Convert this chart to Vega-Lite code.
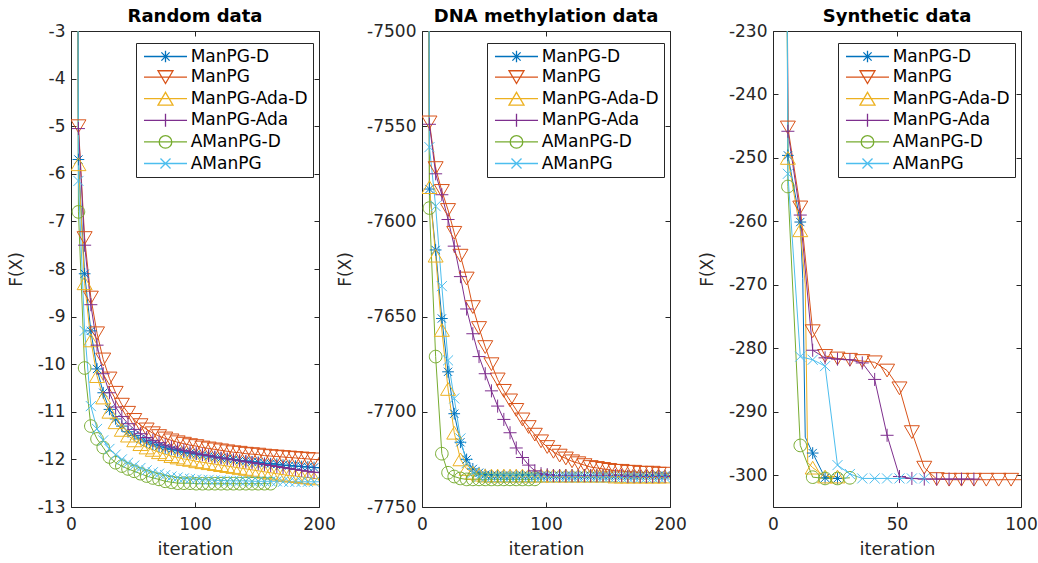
{
  "$schema": "https://vega.github.io/schema/vega-lite/v6.json",
  "padding": {"left": 7, "top": 8, "right": 0, "bottom": 0},
  "datasets": {
    "random": [
      {"m":"ManPG-D","i":5,"F":5},{"m":"ManPG-D","i":6,"F":-5.7},{"m":"ManPG-D","i":11,"F":-8.1},{"m":"ManPG-D","i":16,"F":-9.3},{"m":"ManPG-D","i":21,"F":-10.1},{"m":"ManPG-D","i":26,"F":-10.6},{"m":"ManPG-D","i":31,"F":-10.95},{"m":"ManPG-D","i":36,"F":-11.15},{"m":"ManPG-D","i":41,"F":-11.3},{"m":"ManPG-D","i":46,"F":-11.42},{"m":"ManPG-D","i":51,"F":-11.5},{"m":"ManPG-D","i":56,"F":-11.57},{"m":"ManPG-D","i":61,"F":-11.63},{"m":"ManPG-D","i":66,"F":-11.68},{"m":"ManPG-D","i":71,"F":-11.72},{"m":"ManPG-D","i":76,"F":-11.76},{"m":"ManPG-D","i":81,"F":-11.79},{"m":"ManPG-D","i":86,"F":-11.82},{"m":"ManPG-D","i":91,"F":-11.85},{"m":"ManPG-D","i":96,"F":-11.87},{"m":"ManPG-D","i":101,"F":-11.89},{"m":"ManPG-D","i":106,"F":-11.91},{"m":"ManPG-D","i":111,"F":-11.93},{"m":"ManPG-D","i":116,"F":-11.95},{"m":"ManPG-D","i":121,"F":-11.97},{"m":"ManPG-D","i":126,"F":-11.99},{"m":"ManPG-D","i":131,"F":-12.0},{"m":"ManPG-D","i":136,"F":-12.02},{"m":"ManPG-D","i":141,"F":-12.03},{"m":"ManPG-D","i":146,"F":-12.05},{"m":"ManPG-D","i":151,"F":-12.06},{"m":"ManPG-D","i":156,"F":-12.08},{"m":"ManPG-D","i":161,"F":-12.09},{"m":"ManPG-D","i":166,"F":-12.1},{"m":"ManPG-D","i":171,"F":-12.12},{"m":"ManPG-D","i":176,"F":-12.13},{"m":"ManPG-D","i":181,"F":-12.14},{"m":"ManPG-D","i":186,"F":-12.15},{"m":"ManPG-D","i":191,"F":-12.16},{"m":"ManPG-D","i":196,"F":-12.17},{"m":"ManPG-D","i":200,"F":-12.18},
      {"m":"ManPG","i":5,"F":5},{"m":"ManPG","i":6,"F":-5.0},{"m":"ManPG","i":11,"F":-7.35},{"m":"ManPG","i":16,"F":-8.6},{"m":"ManPG","i":21,"F":-9.35},{"m":"ManPG","i":26,"F":-9.9},{"m":"ManPG","i":31,"F":-10.3},{"m":"ManPG","i":36,"F":-10.6},{"m":"ManPG","i":41,"F":-10.85},{"m":"ManPG","i":46,"F":-11.02},{"m":"ManPG","i":51,"F":-11.17},{"m":"ManPG","i":56,"F":-11.28},{"m":"ManPG","i":61,"F":-11.37},{"m":"ManPG","i":66,"F":-11.45},{"m":"ManPG","i":71,"F":-11.51},{"m":"ManPG","i":76,"F":-11.56},{"m":"ManPG","i":81,"F":-11.6},{"m":"ManPG","i":86,"F":-11.64},{"m":"ManPG","i":91,"F":-11.67},{"m":"ManPG","i":96,"F":-11.7},{"m":"ManPG","i":101,"F":-11.72},{"m":"ManPG","i":106,"F":-11.75},{"m":"ManPG","i":111,"F":-11.77},{"m":"ManPG","i":116,"F":-11.79},{"m":"ManPG","i":121,"F":-11.81},{"m":"ManPG","i":126,"F":-11.83},{"m":"ManPG","i":131,"F":-11.85},{"m":"ManPG","i":136,"F":-11.86},{"m":"ManPG","i":141,"F":-11.88},{"m":"ManPG","i":146,"F":-11.89},{"m":"ManPG","i":151,"F":-11.9},{"m":"ManPG","i":156,"F":-11.92},{"m":"ManPG","i":161,"F":-11.93},{"m":"ManPG","i":166,"F":-11.94},{"m":"ManPG","i":171,"F":-11.95},{"m":"ManPG","i":176,"F":-11.96},{"m":"ManPG","i":181,"F":-11.97},{"m":"ManPG","i":186,"F":-11.98},{"m":"ManPG","i":191,"F":-11.99},{"m":"ManPG","i":196,"F":-12.0},{"m":"ManPG","i":200,"F":-12.01},
      {"m":"ManPG-Ada-D","i":5,"F":5},{"m":"ManPG-Ada-D","i":6,"F":-5.8},{"m":"ManPG-Ada-D","i":11,"F":-8.3},{"m":"ManPG-Ada-D","i":16,"F":-9.5},{"m":"ManPG-Ada-D","i":21,"F":-10.25},{"m":"ManPG-Ada-D","i":26,"F":-10.7},{"m":"ManPG-Ada-D","i":31,"F":-11.0},{"m":"ManPG-Ada-D","i":36,"F":-11.22},{"m":"ManPG-Ada-D","i":41,"F":-11.38},{"m":"ManPG-Ada-D","i":46,"F":-11.5},{"m":"ManPG-Ada-D","i":51,"F":-11.6},{"m":"ManPG-Ada-D","i":56,"F":-11.68},{"m":"ManPG-Ada-D","i":61,"F":-11.75},{"m":"ManPG-Ada-D","i":66,"F":-11.8},{"m":"ManPG-Ada-D","i":71,"F":-11.85},{"m":"ManPG-Ada-D","i":76,"F":-11.89},{"m":"ManPG-Ada-D","i":81,"F":-11.93},{"m":"ManPG-Ada-D","i":86,"F":-11.96},{"m":"ManPG-Ada-D","i":91,"F":-11.99},{"m":"ManPG-Ada-D","i":96,"F":-12.01},{"m":"ManPG-Ada-D","i":101,"F":-12.04},{"m":"ManPG-Ada-D","i":106,"F":-12.06},{"m":"ManPG-Ada-D","i":111,"F":-12.08},{"m":"ManPG-Ada-D","i":116,"F":-12.1},{"m":"ManPG-Ada-D","i":121,"F":-12.12},{"m":"ManPG-Ada-D","i":126,"F":-12.14},{"m":"ManPG-Ada-D","i":131,"F":-12.16},{"m":"ManPG-Ada-D","i":136,"F":-12.18},{"m":"ManPG-Ada-D","i":141,"F":-12.2},{"m":"ManPG-Ada-D","i":146,"F":-12.22},{"m":"ManPG-Ada-D","i":151,"F":-12.24},{"m":"ManPG-Ada-D","i":156,"F":-12.26},{"m":"ManPG-Ada-D","i":161,"F":-12.28},{"m":"ManPG-Ada-D","i":166,"F":-12.3},{"m":"ManPG-Ada-D","i":171,"F":-12.32},{"m":"ManPG-Ada-D","i":176,"F":-12.34},{"m":"ManPG-Ada-D","i":181,"F":-12.35},{"m":"ManPG-Ada-D","i":186,"F":-12.37},{"m":"ManPG-Ada-D","i":191,"F":-12.38},{"m":"ManPG-Ada-D","i":196,"F":-12.4},{"m":"ManPG-Ada-D","i":200,"F":-12.41},
      {"m":"ManPG-Ada","i":5,"F":5},{"m":"ManPG-Ada","i":6,"F":-5.05},{"m":"ManPG-Ada","i":11,"F":-7.5},{"m":"ManPG-Ada","i":16,"F":-8.75},{"m":"ManPG-Ada","i":21,"F":-9.6},{"m":"ManPG-Ada","i":26,"F":-10.2},{"m":"ManPG-Ada","i":31,"F":-10.6},{"m":"ManPG-Ada","i":36,"F":-10.9},{"m":"ManPG-Ada","i":41,"F":-11.1},{"m":"ManPG-Ada","i":46,"F":-11.25},{"m":"ManPG-Ada","i":51,"F":-11.37},{"m":"ManPG-Ada","i":56,"F":-11.46},{"m":"ManPG-Ada","i":61,"F":-11.54},{"m":"ManPG-Ada","i":66,"F":-11.6},{"m":"ManPG-Ada","i":71,"F":-11.65},{"m":"ManPG-Ada","i":76,"F":-11.7},{"m":"ManPG-Ada","i":81,"F":-11.74},{"m":"ManPG-Ada","i":86,"F":-11.78},{"m":"ManPG-Ada","i":91,"F":-11.81},{"m":"ManPG-Ada","i":96,"F":-11.84},{"m":"ManPG-Ada","i":101,"F":-11.87},{"m":"ManPG-Ada","i":106,"F":-11.9},{"m":"ManPG-Ada","i":111,"F":-11.92},{"m":"ManPG-Ada","i":116,"F":-11.95},{"m":"ManPG-Ada","i":121,"F":-11.97},{"m":"ManPG-Ada","i":126,"F":-11.99},{"m":"ManPG-Ada","i":131,"F":-12.01},{"m":"ManPG-Ada","i":136,"F":-12.03},{"m":"ManPG-Ada","i":141,"F":-12.05},{"m":"ManPG-Ada","i":146,"F":-12.07},{"m":"ManPG-Ada","i":151,"F":-12.09},{"m":"ManPG-Ada","i":156,"F":-12.11},{"m":"ManPG-Ada","i":161,"F":-12.13},{"m":"ManPG-Ada","i":166,"F":-12.15},{"m":"ManPG-Ada","i":171,"F":-12.17},{"m":"ManPG-Ada","i":176,"F":-12.19},{"m":"ManPG-Ada","i":181,"F":-12.21},{"m":"ManPG-Ada","i":186,"F":-12.23},{"m":"ManPG-Ada","i":191,"F":-12.25},{"m":"ManPG-Ada","i":196,"F":-12.27},{"m":"ManPG-Ada","i":200,"F":-12.28},
      {"m":"AManPG-D","i":5,"F":5},{"m":"AManPG-D","i":6,"F":-6.8},{"m":"AManPG-D","i":11,"F":-10.08},{"m":"AManPG-D","i":16,"F":-11.3},{"m":"AManPG-D","i":21,"F":-11.57},{"m":"AManPG-D","i":26,"F":-11.75},{"m":"AManPG-D","i":31,"F":-11.95},{"m":"AManPG-D","i":36,"F":-12.07},{"m":"AManPG-D","i":41,"F":-12.14},{"m":"AManPG-D","i":46,"F":-12.2},{"m":"AManPG-D","i":51,"F":-12.25},{"m":"AManPG-D","i":56,"F":-12.3},{"m":"AManPG-D","i":61,"F":-12.35},{"m":"AManPG-D","i":66,"F":-12.39},{"m":"AManPG-D","i":71,"F":-12.42},{"m":"AManPG-D","i":76,"F":-12.46},{"m":"AManPG-D","i":81,"F":-12.48},{"m":"AManPG-D","i":86,"F":-12.5},{"m":"AManPG-D","i":91,"F":-12.5},{"m":"AManPG-D","i":96,"F":-12.5},{"m":"AManPG-D","i":101,"F":-12.51},{"m":"AManPG-D","i":106,"F":-12.51},{"m":"AManPG-D","i":111,"F":-12.51},{"m":"AManPG-D","i":116,"F":-12.51},{"m":"AManPG-D","i":121,"F":-12.51},{"m":"AManPG-D","i":126,"F":-12.51},{"m":"AManPG-D","i":131,"F":-12.51},{"m":"AManPG-D","i":136,"F":-12.51},{"m":"AManPG-D","i":141,"F":-12.51},{"m":"AManPG-D","i":146,"F":-12.51},{"m":"AManPG-D","i":151,"F":-12.51},{"m":"AManPG-D","i":156,"F":-12.51},{"m":"AManPG-D","i":161,"F":-12.51},
      {"m":"AManPG","i":5,"F":5},{"m":"AManPG","i":6,"F":-6.15},{"m":"AManPG","i":11,"F":-9.3},{"m":"AManPG","i":16,"F":-10.88},{"m":"AManPG","i":21,"F":-11.36},{"m":"AManPG","i":26,"F":-11.6},{"m":"AManPG","i":31,"F":-11.78},{"m":"AManPG","i":36,"F":-11.9},{"m":"AManPG","i":41,"F":-12.0},{"m":"AManPG","i":46,"F":-12.07},{"m":"AManPG","i":51,"F":-12.13},{"m":"AManPG","i":56,"F":-12.18},{"m":"AManPG","i":61,"F":-12.23},{"m":"AManPG","i":66,"F":-12.27},{"m":"AManPG","i":71,"F":-12.3},{"m":"AManPG","i":76,"F":-12.33},{"m":"AManPG","i":81,"F":-12.36},{"m":"AManPG","i":86,"F":-12.38},{"m":"AManPG","i":91,"F":-12.4},{"m":"AManPG","i":96,"F":-12.41},{"m":"AManPG","i":101,"F":-12.42},{"m":"AManPG","i":106,"F":-12.43},{"m":"AManPG","i":111,"F":-12.43},{"m":"AManPG","i":116,"F":-12.44},{"m":"AManPG","i":121,"F":-12.44},{"m":"AManPG","i":126,"F":-12.45},{"m":"AManPG","i":131,"F":-12.45},{"m":"AManPG","i":136,"F":-12.45},{"m":"AManPG","i":141,"F":-12.45},{"m":"AManPG","i":146,"F":-12.46},{"m":"AManPG","i":151,"F":-12.46},{"m":"AManPG","i":156,"F":-12.46},{"m":"AManPG","i":161,"F":-12.46},{"m":"AManPG","i":166,"F":-12.46},{"m":"AManPG","i":171,"F":-12.47},{"m":"AManPG","i":176,"F":-12.47},{"m":"AManPG","i":181,"F":-12.47},{"m":"AManPG","i":186,"F":-12.47},{"m":"AManPG","i":191,"F":-12.47},{"m":"AManPG","i":196,"F":-12.47},{"m":"AManPG","i":200,"F":-12.47}
    ],
    "dna": [
      {"m":"ManPG-D","i":5,"F":-7300},{"m":"ManPG-D","i":6,"F":-7583},{"m":"ManPG-D","i":11,"F":-7615},{"m":"ManPG-D","i":16,"F":-7651},{"m":"ManPG-D","i":21,"F":-7679},{"m":"ManPG-D","i":26,"F":-7701},{"m":"ManPG-D","i":31,"F":-7716},{"m":"ManPG-D","i":36,"F":-7725},{"m":"ManPG-D","i":41,"F":-7730},{"m":"ManPG-D","i":46,"F":-7732},{"m":"ManPG-D","i":51,"F":-7733},{"m":"ManPG-D","i":56,"F":-7733.5},{"m":"ManPG-D","i":61,"F":-7733.5},{"m":"ManPG-D","i":66,"F":-7733.5},{"m":"ManPG-D","i":71,"F":-7733.5},{"m":"ManPG-D","i":76,"F":-7733.5},{"m":"ManPG-D","i":81,"F":-7733.5},{"m":"ManPG-D","i":86,"F":-7733.5},{"m":"ManPG-D","i":91,"F":-7733.5},{"m":"ManPG-D","i":96,"F":-7733.5},{"m":"ManPG-D","i":101,"F":-7733.5},{"m":"ManPG-D","i":106,"F":-7733.5},{"m":"ManPG-D","i":111,"F":-7733.5},{"m":"ManPG-D","i":116,"F":-7733.5},{"m":"ManPG-D","i":121,"F":-7733.5},{"m":"ManPG-D","i":126,"F":-7733.5},{"m":"ManPG-D","i":131,"F":-7733.5},{"m":"ManPG-D","i":136,"F":-7733.5},{"m":"ManPG-D","i":141,"F":-7733.5},{"m":"ManPG-D","i":146,"F":-7733.5},{"m":"ManPG-D","i":151,"F":-7733.5},{"m":"ManPG-D","i":156,"F":-7733.5},{"m":"ManPG-D","i":161,"F":-7733.5},{"m":"ManPG-D","i":166,"F":-7733.5},{"m":"ManPG-D","i":171,"F":-7733.5},{"m":"ManPG-D","i":176,"F":-7733.5},{"m":"ManPG-D","i":181,"F":-7733.5},{"m":"ManPG-D","i":186,"F":-7733.5},{"m":"ManPG-D","i":191,"F":-7733.5},{"m":"ManPG-D","i":196,"F":-7733.5},{"m":"ManPG-D","i":200,"F":-7733.5},
      {"m":"ManPG","i":5,"F":-7300},{"m":"ManPG","i":6,"F":-7548},{"m":"ManPG","i":11,"F":-7572},{"m":"ManPG","i":16,"F":-7584},{"m":"ManPG","i":21,"F":-7594},{"m":"ManPG","i":26,"F":-7606},{"m":"ManPG","i":31,"F":-7618},{"m":"ManPG","i":36,"F":-7630},{"m":"ManPG","i":41,"F":-7645},{"m":"ManPG","i":46,"F":-7656},{"m":"ManPG","i":51,"F":-7666},{"m":"ManPG","i":56,"F":-7675},{"m":"ManPG","i":61,"F":-7683},{"m":"ManPG","i":66,"F":-7689},{"m":"ManPG","i":71,"F":-7694},{"m":"ManPG","i":76,"F":-7699},{"m":"ManPG","i":81,"F":-7704},{"m":"ManPG","i":86,"F":-7708},{"m":"ManPG","i":91,"F":-7712},{"m":"ManPG","i":96,"F":-7715.5},{"m":"ManPG","i":101,"F":-7718.5},{"m":"ManPG","i":106,"F":-7721},{"m":"ManPG","i":111,"F":-7723},{"m":"ManPG","i":116,"F":-7724.5},{"m":"ManPG","i":121,"F":-7726},{"m":"ManPG","i":126,"F":-7727},{"m":"ManPG","i":131,"F":-7728},{"m":"ManPG","i":136,"F":-7729},{"m":"ManPG","i":141,"F":-7729.5},{"m":"ManPG","i":146,"F":-7730},{"m":"ManPG","i":151,"F":-7730.5},{"m":"ManPG","i":156,"F":-7731},{"m":"ManPG","i":161,"F":-7731},{"m":"ManPG","i":166,"F":-7731.5},{"m":"ManPG","i":171,"F":-7731.5},{"m":"ManPG","i":176,"F":-7732},{"m":"ManPG","i":181,"F":-7732},{"m":"ManPG","i":186,"F":-7732},{"m":"ManPG","i":191,"F":-7732.5},{"m":"ManPG","i":196,"F":-7732.5},{"m":"ManPG","i":200,"F":-7732.5},
      {"m":"ManPG-Ada-D","i":5,"F":-7300},{"m":"ManPG-Ada-D","i":6,"F":-7582},{"m":"ManPG-Ada-D","i":11,"F":-7618},{"m":"ManPG-Ada-D","i":16,"F":-7657},{"m":"ManPG-Ada-D","i":21,"F":-7688},{"m":"ManPG-Ada-D","i":26,"F":-7711},{"m":"ManPG-Ada-D","i":31,"F":-7725},{"m":"ManPG-Ada-D","i":36,"F":-7730},{"m":"ManPG-Ada-D","i":41,"F":-7732},{"m":"ManPG-Ada-D","i":46,"F":-7733},{"m":"ManPG-Ada-D","i":51,"F":-7733.5},{"m":"ManPG-Ada-D","i":56,"F":-7733.5},{"m":"ManPG-Ada-D","i":61,"F":-7733.5},{"m":"ManPG-Ada-D","i":66,"F":-7733.5},{"m":"ManPG-Ada-D","i":71,"F":-7733.5},{"m":"ManPG-Ada-D","i":76,"F":-7733.5},{"m":"ManPG-Ada-D","i":81,"F":-7733.5},{"m":"ManPG-Ada-D","i":86,"F":-7733.5},{"m":"ManPG-Ada-D","i":91,"F":-7733.5},{"m":"ManPG-Ada-D","i":96,"F":-7733.5},{"m":"ManPG-Ada-D","i":101,"F":-7733.5},{"m":"ManPG-Ada-D","i":106,"F":-7733.5},{"m":"ManPG-Ada-D","i":111,"F":-7733.5},{"m":"ManPG-Ada-D","i":116,"F":-7733.5},{"m":"ManPG-Ada-D","i":121,"F":-7733.5},{"m":"ManPG-Ada-D","i":126,"F":-7733.5},{"m":"ManPG-Ada-D","i":131,"F":-7733.5},{"m":"ManPG-Ada-D","i":136,"F":-7733.5},{"m":"ManPG-Ada-D","i":141,"F":-7733.5},{"m":"ManPG-Ada-D","i":146,"F":-7733.5},{"m":"ManPG-Ada-D","i":151,"F":-7733.5},{"m":"ManPG-Ada-D","i":156,"F":-7734},{"m":"ManPG-Ada-D","i":161,"F":-7734},{"m":"ManPG-Ada-D","i":166,"F":-7734},{"m":"ManPG-Ada-D","i":171,"F":-7734},{"m":"ManPG-Ada-D","i":176,"F":-7734},{"m":"ManPG-Ada-D","i":181,"F":-7734},{"m":"ManPG-Ada-D","i":186,"F":-7734},{"m":"ManPG-Ada-D","i":191,"F":-7734},{"m":"ManPG-Ada-D","i":196,"F":-7734},{"m":"ManPG-Ada-D","i":200,"F":-7734},
      {"m":"ManPG-Ada","i":5,"F":-7300},{"m":"ManPG-Ada","i":6,"F":-7549},{"m":"ManPG-Ada","i":11,"F":-7575},{"m":"ManPG-Ada","i":16,"F":-7586},{"m":"ManPG-Ada","i":21,"F":-7599},{"m":"ManPG-Ada","i":26,"F":-7613},{"m":"ManPG-Ada","i":31,"F":-7629},{"m":"ManPG-Ada","i":36,"F":-7646},{"m":"ManPG-Ada","i":41,"F":-7659},{"m":"ManPG-Ada","i":46,"F":-7671},{"m":"ManPG-Ada","i":51,"F":-7680},{"m":"ManPG-Ada","i":56,"F":-7689},{"m":"ManPG-Ada","i":61,"F":-7697},{"m":"ManPG-Ada","i":66,"F":-7704},{"m":"ManPG-Ada","i":71,"F":-7711},{"m":"ManPG-Ada","i":76,"F":-7719},{"m":"ManPG-Ada","i":81,"F":-7724},{"m":"ManPG-Ada","i":86,"F":-7728},{"m":"ManPG-Ada","i":91,"F":-7731},{"m":"ManPG-Ada","i":96,"F":-7732.5},{"m":"ManPG-Ada","i":101,"F":-7733},{"m":"ManPG-Ada","i":106,"F":-7733.5},{"m":"ManPG-Ada","i":111,"F":-7733.5},{"m":"ManPG-Ada","i":116,"F":-7733.5},{"m":"ManPG-Ada","i":121,"F":-7733.5},{"m":"ManPG-Ada","i":126,"F":-7733.5},{"m":"ManPG-Ada","i":131,"F":-7733.5},{"m":"ManPG-Ada","i":136,"F":-7733.5},{"m":"ManPG-Ada","i":141,"F":-7733.5},{"m":"ManPG-Ada","i":146,"F":-7733.5},{"m":"ManPG-Ada","i":151,"F":-7733.5},{"m":"ManPG-Ada","i":156,"F":-7733.5},{"m":"ManPG-Ada","i":161,"F":-7733.5},{"m":"ManPG-Ada","i":166,"F":-7734},{"m":"ManPG-Ada","i":171,"F":-7734},{"m":"ManPG-Ada","i":176,"F":-7734},{"m":"ManPG-Ada","i":181,"F":-7734},{"m":"ManPG-Ada","i":186,"F":-7734},{"m":"ManPG-Ada","i":191,"F":-7734},{"m":"ManPG-Ada","i":196,"F":-7734},{"m":"ManPG-Ada","i":200,"F":-7734},
      {"m":"AManPG-D","i":5,"F":-7300},{"m":"AManPG-D","i":6,"F":-7593},{"m":"AManPG-D","i":11,"F":-7671},{"m":"AManPG-D","i":16,"F":-7722},{"m":"AManPG-D","i":21,"F":-7732},{"m":"AManPG-D","i":26,"F":-7734},{"m":"AManPG-D","i":31,"F":-7735},{"m":"AManPG-D","i":36,"F":-7735.5},{"m":"AManPG-D","i":41,"F":-7735.5},{"m":"AManPG-D","i":46,"F":-7735.5},{"m":"AManPG-D","i":51,"F":-7735.5},{"m":"AManPG-D","i":56,"F":-7735.5},{"m":"AManPG-D","i":61,"F":-7735.5},{"m":"AManPG-D","i":66,"F":-7735.5},{"m":"AManPG-D","i":71,"F":-7735.5},{"m":"AManPG-D","i":76,"F":-7735.5},{"m":"AManPG-D","i":81,"F":-7735.5},{"m":"AManPG-D","i":86,"F":-7735.5},{"m":"AManPG-D","i":91,"F":-7735.5},
      {"m":"AManPG","i":5,"F":-7300},{"m":"AManPG","i":6,"F":-7561},{"m":"AManPG","i":11,"F":-7592},{"m":"AManPG","i":16,"F":-7634},{"m":"AManPG","i":21,"F":-7673},{"m":"AManPG","i":26,"F":-7693},{"m":"AManPG","i":31,"F":-7714},{"m":"AManPG","i":36,"F":-7727},{"m":"AManPG","i":41,"F":-7732},{"m":"AManPG","i":46,"F":-7734},{"m":"AManPG","i":51,"F":-7734.5},{"m":"AManPG","i":56,"F":-7734.5},{"m":"AManPG","i":61,"F":-7734.5},{"m":"AManPG","i":66,"F":-7734.5},{"m":"AManPG","i":71,"F":-7734.5},{"m":"AManPG","i":76,"F":-7734.5},{"m":"AManPG","i":81,"F":-7734.5},{"m":"AManPG","i":86,"F":-7734.5},{"m":"AManPG","i":91,"F":-7734.5},{"m":"AManPG","i":96,"F":-7734.5},{"m":"AManPG","i":101,"F":-7734.5},{"m":"AManPG","i":106,"F":-7734.5},{"m":"AManPG","i":111,"F":-7734.5},{"m":"AManPG","i":116,"F":-7734.5},{"m":"AManPG","i":121,"F":-7734.5},{"m":"AManPG","i":126,"F":-7734.5},{"m":"AManPG","i":131,"F":-7734.5},{"m":"AManPG","i":136,"F":-7734.5},{"m":"AManPG","i":141,"F":-7734.5},{"m":"AManPG","i":146,"F":-7734.5},{"m":"AManPG","i":151,"F":-7734.5},{"m":"AManPG","i":156,"F":-7734.5},{"m":"AManPG","i":161,"F":-7734.5},{"m":"AManPG","i":166,"F":-7734.5},{"m":"AManPG","i":171,"F":-7734.5},{"m":"AManPG","i":176,"F":-7734.5},{"m":"AManPG","i":181,"F":-7734.5},{"m":"AManPG","i":186,"F":-7734.5},{"m":"AManPG","i":191,"F":-7734.5},{"m":"AManPG","i":196,"F":-7734.5},{"m":"AManPG","i":200,"F":-7734.5}
    ],
    "synth": [
      {"m":"ManPG-D","i":5,"F":-150},{"m":"ManPG-D","i":6,"F":-249.6},{"m":"ManPG-D","i":11,"F":-260.1},{"m":"ManPG-D","i":12,"F":-269},{"m":"ManPG-D","i":13,"F":-294},{"m":"ManPG-D","i":16,"F":-296.5},{"m":"ManPG-D","i":21,"F":-300.4},{"m":"ManPG-D","i":26,"F":-300.5},
      {"m":"ManPG","i":5,"F":-150},{"m":"ManPG","i":6,"F":-245.2},{"m":"ManPG","i":11,"F":-257.8},{"m":"ManPG","i":16,"F":-277.3},{"m":"ManPG","i":21,"F":-281.2},{"m":"ManPG","i":26,"F":-281.6},{"m":"ManPG","i":31,"F":-281.8},{"m":"ManPG","i":36,"F":-282},{"m":"ManPG","i":41,"F":-282.2},{"m":"ManPG","i":46,"F":-283.5},{"m":"ManPG","i":51,"F":-286.3},{"m":"ManPG","i":56,"F":-293.2},{"m":"ManPG","i":61,"F":-298.8},{"m":"ManPG","i":66,"F":-300.6},{"m":"ManPG","i":71,"F":-300.7},{"m":"ManPG","i":76,"F":-300.7},{"m":"ManPG","i":81,"F":-300.7},{"m":"ManPG","i":86,"F":-300.7},{"m":"ManPG","i":91,"F":-300.7},{"m":"ManPG","i":96,"F":-300.7},{"m":"ManPG","i":100,"F":-300.7},
      {"m":"ManPG-Ada-D","i":5,"F":-150},{"m":"ManPG-Ada-D","i":6,"F":-250},{"m":"ManPG-Ada-D","i":11,"F":-261.4},{"m":"ManPG-Ada-D","i":13,"F":-270},{"m":"ManPG-Ada-D","i":14,"F":-298},{"m":"ManPG-Ada-D","i":16,"F":-298.8},{"m":"ManPG-Ada-D","i":21,"F":-300.2},{"m":"ManPG-Ada-D","i":26,"F":-300.2},
      {"m":"ManPG-Ada","i":5,"F":-150},{"m":"ManPG-Ada","i":6,"F":-245.8},{"m":"ManPG-Ada","i":11,"F":-259},{"m":"ManPG-Ada","i":16,"F":-280.3},{"m":"ManPG-Ada","i":21,"F":-281.5},{"m":"ManPG-Ada","i":26,"F":-281.7},{"m":"ManPG-Ada","i":31,"F":-281.8},{"m":"ManPG-Ada","i":36,"F":-282.3},{"m":"ManPG-Ada","i":41,"F":-284.9},{"m":"ManPG-Ada","i":46,"F":-293.7},{"m":"ManPG-Ada","i":51,"F":-300.2},{"m":"ManPG-Ada","i":56,"F":-300.5},{"m":"ManPG-Ada","i":61,"F":-300.6},{"m":"ManPG-Ada","i":66,"F":-300.6},{"m":"ManPG-Ada","i":71,"F":-300.6},{"m":"ManPG-Ada","i":76,"F":-300.6},{"m":"ManPG-Ada","i":81,"F":-300.6},
      {"m":"AManPG-D","i":5,"F":-150},{"m":"AManPG-D","i":6,"F":-254.5},{"m":"AManPG-D","i":11,"F":-295.3},{"m":"AManPG-D","i":16,"F":-300.3},{"m":"AManPG-D","i":21,"F":-300.5},{"m":"AManPG-D","i":26,"F":-300.5},{"m":"AManPG-D","i":31,"F":-300.4},
      {"m":"AManPG","i":5,"F":-150},{"m":"AManPG","i":6,"F":-252.5},{"m":"AManPG","i":11,"F":-281.3},{"m":"AManPG","i":16,"F":-281.8},{"m":"AManPG","i":21,"F":-282.8},{"m":"AManPG","i":26,"F":-298.4},{"m":"AManPG","i":31,"F":-299.8},{"m":"AManPG","i":36,"F":-300.5},{"m":"AManPG","i":41,"F":-300.5},{"m":"AManPG","i":46,"F":-300.5},{"m":"AManPG","i":51,"F":-300.5},{"m":"AManPG","i":56,"F":-300.5},{"m":"AManPG","i":61,"F":-300.5}
    ]
  },
  "bounds": "flush",
  "spacing": 103,
  "hconcat": [
    {
      "title": "Random data",
      "width": 248, "height": 476,
      "data": {"name": "random"},
      "layer": [
        {
          "mark": {"type": "line", "clip": true, "strokeWidth": 1},
          "encoding": {
            "x": {"field": "i", "type": "quantitative", "scale": {"domain": [0, 200], "nice": false}, "axis": {"orient": "bottom", "values": [0, 100, 200], "title": "iteration"}},
            "y": {"field": "F", "type": "quantitative", "scale": {"domain": [-13, -3], "nice": false, "zero": false}, "axis": {"orient": "left", "values": [-13, -12, -11, -10, -9, -8, -7, -6, -5, -4, -3], "title": "F(X)", "labelExpr": "'' + datum.value"}},
            "color": {"field": "m", "type": "nominal", "scale": {"domain": ["ManPG-D", "ManPG", "ManPG-Ada-D", "ManPG-Ada", "AManPG-D", "AManPG"], "range": ["#0072BD", "#D95319", "#EDB120", "#7E2F8E", "#77AC30", "#4DBEEE"]}, "legend": {"orient": "none", "legendX": 65, "legendY": 12, "title": null, "encode": {"symbols": {"update": {"fill": {"value": "transparent"}, "strokeWidth": {"value": 1.3}, "shape": {"signal": "datum.value == 'ManPG-D' ? 'M-2.87,0L2.87,0M0,-0.78L0,0.78M-0.55,-0.55L0.55,0.55M-0.55,0.55L0.55,-0.55' : datum.value == 'ManPG' ? 'M-2.87,0L2.87,0M-1,-0.85L1,-0.85L0,0.85Z' : datum.value == 'ManPG-Ada-D' ? 'M-2.87,0L2.87,0M-1,0.85L1,0.85L0,-0.85Z' : datum.value == 'ManPG-Ada' ? 'M-2.87,0L2.87,0M0,-0.87L0,0.87' : datum.value == 'AManPG-D' ? 'M-2.87,0L2.87,0M0.84,0A0.84,0.84,0,1,1,-0.84,0A0.84,0.84,0,1,1,0.84,0Z' : 'M-2.87,0L2.87,0M-0.67,-0.67L0.67,0.67M-0.67,0.67L0.67,-0.67'"}}}}}}
          }
        },
        {
          "transform": [{"filter": "datum.i % 5 == 1"}],
          "mark": {"type": "point", "filled": false, "size": 225, "strokeWidth": 1, "opacity": 1, "clip": true, "shape": {"expr": "datum.m == 'ManPG-D' ? 'M-0.78,0L0.78,0M0,-0.78L0,0.78M-0.55,-0.55L0.55,0.55M-0.55,0.55L0.55,-0.55' : datum.m == 'ManPG' ? 'M-1,-0.85L1,-0.85L0,0.85Z' : datum.m == 'ManPG-Ada-D' ? 'M-1,0.85L1,0.85L0,-0.85Z' : datum.m == 'ManPG-Ada' ? 'M-0.87,0L0.87,0M0,-0.87L0,0.87' : datum.m == 'AManPG-D' ? 'M0.84,0A0.84,0.84,0,1,1,-0.84,0A0.84,0.84,0,1,1,0.84,0Z' : 'M-0.67,-0.67L0.67,0.67M-0.67,0.67L0.67,-0.67'"}},
          "encoding": {
            "x": {"field": "i", "type": "quantitative", "scale": {"domain": [0, 200], "nice": false}, "axis": {"orient": "top", "values": [0, 100, 200], "labels": false, "title": null}},
            "y": {"field": "F", "type": "quantitative", "scale": {"domain": [-13, -3], "nice": false, "zero": false}, "axis": {"orient": "right", "values": [-13, -12, -11, -10, -9, -8, -7, -6, -5, -4, -3], "labels": false, "title": null}},
            "color": {"field": "m", "type": "nominal", "scale": {"domain": ["ManPG-D", "ManPG", "ManPG-Ada-D", "ManPG-Ada", "AManPG-D", "AManPG"], "range": ["#0072BD", "#D95319", "#EDB120", "#7E2F8E", "#77AC30", "#4DBEEE"]}, "legend": {"orient": "none", "legendX": 65, "legendY": 12, "title": null, "encode": {"symbols": {"update": {"fill": {"value": "transparent"}, "strokeWidth": {"value": 1.3}, "shape": {"signal": "datum.value == 'ManPG-D' ? 'M-2.87,0L2.87,0M0,-0.78L0,0.78M-0.55,-0.55L0.55,0.55M-0.55,0.55L0.55,-0.55' : datum.value == 'ManPG' ? 'M-2.87,0L2.87,0M-1,-0.85L1,-0.85L0,0.85Z' : datum.value == 'ManPG-Ada-D' ? 'M-2.87,0L2.87,0M-1,0.85L1,0.85L0,-0.85Z' : datum.value == 'ManPG-Ada' ? 'M-2.87,0L2.87,0M0,-0.87L0,0.87' : datum.value == 'AManPG-D' ? 'M-2.87,0L2.87,0M0.84,0A0.84,0.84,0,1,1,-0.84,0A0.84,0.84,0,1,1,0.84,0Z' : 'M-2.87,0L2.87,0M-0.67,-0.67L0.67,0.67M-0.67,0.67L0.67,-0.67'"}}}}}}
          }
        }
      ],
      "resolve": {"axis": {"x": "independent", "y": "independent"}}
    },
    {
      "title": "DNA methylation data",
      "width": 248, "height": 476,
      "data": {"name": "dna"},
      "layer": [
        {
          "mark": {"type": "line", "clip": true, "strokeWidth": 1},
          "encoding": {
            "x": {"field": "i", "type": "quantitative", "scale": {"domain": [0, 200], "nice": false}, "axis": {"orient": "bottom", "values": [0, 100, 200], "title": "iteration"}},
            "y": {"field": "F", "type": "quantitative", "scale": {"domain": [-7750, -7500], "nice": false, "zero": false}, "axis": {"orient": "left", "values": [-7750, -7700, -7650, -7600, -7550, -7500], "title": "F(X)", "labelExpr": "'' + datum.value"}},
            "color": {"field": "m", "type": "nominal", "scale": {"domain": ["ManPG-D", "ManPG", "ManPG-Ada-D", "ManPG-Ada", "AManPG-D", "AManPG"], "range": ["#0072BD", "#D95319", "#EDB120", "#7E2F8E", "#77AC30", "#4DBEEE"]}, "legend": {"orient": "none", "legendX": 65, "legendY": 12, "title": null, "encode": {"symbols": {"update": {"fill": {"value": "transparent"}, "strokeWidth": {"value": 1.3}, "shape": {"signal": "datum.value == 'ManPG-D' ? 'M-2.87,0L2.87,0M0,-0.78L0,0.78M-0.55,-0.55L0.55,0.55M-0.55,0.55L0.55,-0.55' : datum.value == 'ManPG' ? 'M-2.87,0L2.87,0M-1,-0.85L1,-0.85L0,0.85Z' : datum.value == 'ManPG-Ada-D' ? 'M-2.87,0L2.87,0M-1,0.85L1,0.85L0,-0.85Z' : datum.value == 'ManPG-Ada' ? 'M-2.87,0L2.87,0M0,-0.87L0,0.87' : datum.value == 'AManPG-D' ? 'M-2.87,0L2.87,0M0.84,0A0.84,0.84,0,1,1,-0.84,0A0.84,0.84,0,1,1,0.84,0Z' : 'M-2.87,0L2.87,0M-0.67,-0.67L0.67,0.67M-0.67,0.67L0.67,-0.67'"}}}}}}
          }
        },
        {
          "transform": [{"filter": "datum.i % 5 == 1"}],
          "mark": {"type": "point", "filled": false, "size": 225, "strokeWidth": 1, "opacity": 1, "clip": true, "shape": {"expr": "datum.m == 'ManPG-D' ? 'M-0.78,0L0.78,0M0,-0.78L0,0.78M-0.55,-0.55L0.55,0.55M-0.55,0.55L0.55,-0.55' : datum.m == 'ManPG' ? 'M-1,-0.85L1,-0.85L0,0.85Z' : datum.m == 'ManPG-Ada-D' ? 'M-1,0.85L1,0.85L0,-0.85Z' : datum.m == 'ManPG-Ada' ? 'M-0.87,0L0.87,0M0,-0.87L0,0.87' : datum.m == 'AManPG-D' ? 'M0.84,0A0.84,0.84,0,1,1,-0.84,0A0.84,0.84,0,1,1,0.84,0Z' : 'M-0.67,-0.67L0.67,0.67M-0.67,0.67L0.67,-0.67'"}},
          "encoding": {
            "x": {"field": "i", "type": "quantitative", "scale": {"domain": [0, 200], "nice": false}, "axis": {"orient": "top", "values": [0, 100, 200], "labels": false, "title": null}},
            "y": {"field": "F", "type": "quantitative", "scale": {"domain": [-7750, -7500], "nice": false, "zero": false}, "axis": {"orient": "right", "values": [-7750, -7700, -7650, -7600, -7550, -7500], "labels": false, "title": null}},
            "color": {"field": "m", "type": "nominal", "scale": {"domain": ["ManPG-D", "ManPG", "ManPG-Ada-D", "ManPG-Ada", "AManPG-D", "AManPG"], "range": ["#0072BD", "#D95319", "#EDB120", "#7E2F8E", "#77AC30", "#4DBEEE"]}, "legend": {"orient": "none", "legendX": 65, "legendY": 12, "title": null, "encode": {"symbols": {"update": {"fill": {"value": "transparent"}, "strokeWidth": {"value": 1.3}, "shape": {"signal": "datum.value == 'ManPG-D' ? 'M-2.87,0L2.87,0M0,-0.78L0,0.78M-0.55,-0.55L0.55,0.55M-0.55,0.55L0.55,-0.55' : datum.value == 'ManPG' ? 'M-2.87,0L2.87,0M-1,-0.85L1,-0.85L0,0.85Z' : datum.value == 'ManPG-Ada-D' ? 'M-2.87,0L2.87,0M-1,0.85L1,0.85L0,-0.85Z' : datum.value == 'ManPG-Ada' ? 'M-2.87,0L2.87,0M0,-0.87L0,0.87' : datum.value == 'AManPG-D' ? 'M-2.87,0L2.87,0M0.84,0A0.84,0.84,0,1,1,-0.84,0A0.84,0.84,0,1,1,0.84,0Z' : 'M-2.87,0L2.87,0M-0.67,-0.67L0.67,0.67M-0.67,0.67L0.67,-0.67'"}}}}}}
          }
        }
      ],
      "resolve": {"axis": {"x": "independent", "y": "independent"}}
    },
    {
      "title": "Synthetic data",
      "width": 248, "height": 476,
      "data": {"name": "synth"},
      "layer": [
        {
          "mark": {"type": "line", "clip": true, "strokeWidth": 1},
          "encoding": {
            "x": {"field": "i", "type": "quantitative", "scale": {"domain": [0, 100], "nice": false}, "axis": {"orient": "bottom", "values": [0, 50, 100], "title": "iteration"}},
            "y": {"field": "F", "type": "quantitative", "scale": {"domain": [-305, -230], "nice": false, "zero": false}, "axis": {"orient": "left", "values": [-300, -290, -280, -270, -260, -250, -240, -230], "title": "F(X)", "labelExpr": "'' + datum.value"}},
            "color": {"field": "m", "type": "nominal", "scale": {"domain": ["ManPG-D", "ManPG", "ManPG-Ada-D", "ManPG-Ada", "AManPG-D", "AManPG"], "range": ["#0072BD", "#D95319", "#EDB120", "#7E2F8E", "#77AC30", "#4DBEEE"]}, "legend": {"orient": "none", "legendX": 65, "legendY": 12, "title": null, "encode": {"symbols": {"update": {"fill": {"value": "transparent"}, "strokeWidth": {"value": 1.3}, "shape": {"signal": "datum.value == 'ManPG-D' ? 'M-2.87,0L2.87,0M0,-0.78L0,0.78M-0.55,-0.55L0.55,0.55M-0.55,0.55L0.55,-0.55' : datum.value == 'ManPG' ? 'M-2.87,0L2.87,0M-1,-0.85L1,-0.85L0,0.85Z' : datum.value == 'ManPG-Ada-D' ? 'M-2.87,0L2.87,0M-1,0.85L1,0.85L0,-0.85Z' : datum.value == 'ManPG-Ada' ? 'M-2.87,0L2.87,0M0,-0.87L0,0.87' : datum.value == 'AManPG-D' ? 'M-2.87,0L2.87,0M0.84,0A0.84,0.84,0,1,1,-0.84,0A0.84,0.84,0,1,1,0.84,0Z' : 'M-2.87,0L2.87,0M-0.67,-0.67L0.67,0.67M-0.67,0.67L0.67,-0.67'"}}}}}}
          }
        },
        {
          "transform": [{"filter": "datum.i % 5 == 1"}],
          "mark": {"type": "point", "filled": false, "size": 225, "strokeWidth": 1, "opacity": 1, "clip": true, "shape": {"expr": "datum.m == 'ManPG-D' ? 'M-0.78,0L0.78,0M0,-0.78L0,0.78M-0.55,-0.55L0.55,0.55M-0.55,0.55L0.55,-0.55' : datum.m == 'ManPG' ? 'M-1,-0.85L1,-0.85L0,0.85Z' : datum.m == 'ManPG-Ada-D' ? 'M-1,0.85L1,0.85L0,-0.85Z' : datum.m == 'ManPG-Ada' ? 'M-0.87,0L0.87,0M0,-0.87L0,0.87' : datum.m == 'AManPG-D' ? 'M0.84,0A0.84,0.84,0,1,1,-0.84,0A0.84,0.84,0,1,1,0.84,0Z' : 'M-0.67,-0.67L0.67,0.67M-0.67,0.67L0.67,-0.67'"}},
          "encoding": {
            "x": {"field": "i", "type": "quantitative", "scale": {"domain": [0, 100], "nice": false}, "axis": {"orient": "top", "values": [0, 50, 100], "labels": false, "title": null}},
            "y": {"field": "F", "type": "quantitative", "scale": {"domain": [-305, -230], "nice": false, "zero": false}, "axis": {"orient": "right", "values": [-300, -290, -280, -270, -260, -250, -240, -230], "labels": false, "title": null}},
            "color": {"field": "m", "type": "nominal", "scale": {"domain": ["ManPG-D", "ManPG", "ManPG-Ada-D", "ManPG-Ada", "AManPG-D", "AManPG"], "range": ["#0072BD", "#D95319", "#EDB120", "#7E2F8E", "#77AC30", "#4DBEEE"]}, "legend": {"orient": "none", "legendX": 65, "legendY": 12, "title": null, "encode": {"symbols": {"update": {"fill": {"value": "transparent"}, "strokeWidth": {"value": 1.3}, "shape": {"signal": "datum.value == 'ManPG-D' ? 'M-2.87,0L2.87,0M0,-0.78L0,0.78M-0.55,-0.55L0.55,0.55M-0.55,0.55L0.55,-0.55' : datum.value == 'ManPG' ? 'M-2.87,0L2.87,0M-1,-0.85L1,-0.85L0,0.85Z' : datum.value == 'ManPG-Ada-D' ? 'M-2.87,0L2.87,0M-1,0.85L1,0.85L0,-0.85Z' : datum.value == 'ManPG-Ada' ? 'M-2.87,0L2.87,0M0,-0.87L0,0.87' : datum.value == 'AManPG-D' ? 'M-2.87,0L2.87,0M0.84,0A0.84,0.84,0,1,1,-0.84,0A0.84,0.84,0,1,1,0.84,0Z' : 'M-2.87,0L2.87,0M-0.67,-0.67L0.67,0.67M-0.67,0.67L0.67,-0.67'"}}}}}}
          }
        }
      ],
      "resolve": {"axis": {"x": "independent", "y": "independent"}}
    }
  ],
  "resolve": {"scale": {"x": "independent", "y": "independent", "color": "independent"}, "legend": {"color": "independent"}},
  "config": {
    "font": "DejaVu Sans",
    "background": "white",
    "view": {"stroke": null},
    "axis": {"grid": false, "domainColor": "#262626", "domainWidth": 1, "tickColor": "#262626", "tickWidth": 1, "tickSize": -5, "labelColor": "#262626", "labelFont": "DejaVu Sans", "labelFontSize": 17, "labelFlush": false, "labelOverlap": false, "titleColor": "#262626", "titleFont": "DejaVu Sans", "titleFontWeight": "normal"},
    "axisX": {"labelPadding": 14, "titleFontSize": 18, "titlePadding": 8},
    "axisY": {"labelPadding": 11, "titleFontSize": 17, "titlePadding": 12},
    "title": {"font": "DejaVu Sans", "fontSize": 18, "fontWeight": "bold", "color": "black", "offset": -4, "frame": "group"},
    "legend": {"strokeColor": "#262626", "fillColor": "white", "padding": 5, "labelFont": "DejaVu Sans", "labelFontSize": 17, "labelColor": "black", "symbolSize": 225, "symbolStrokeWidth": 1.3, "symbolOffset": 16, "labelOffset": 16.7, "rowPadding": 2.6, "cornerRadius": 0}
  }
}
